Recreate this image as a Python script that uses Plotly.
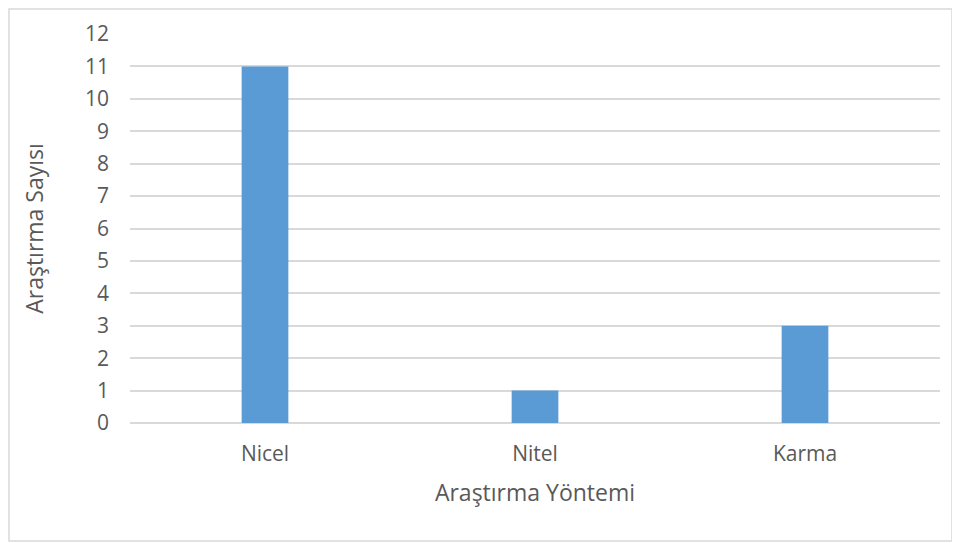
import plotly.graph_objects as go

categories = ["Nicel", "Nitel", "Karma"]
values = [11, 1, 3]
y_ticks = list(range(0, 13))

# page body has an 8px margin, so figure coords = reference coords - 8
OFF = 8
W, H = 960, 543
L, T = 130 - OFF, 34 - OFF
R = W - (940 - OFF)
B = H - (423 - OFF)
pw, ph = W - L - R, H - T - B

def px_x(x):
    return (x - OFF - L) / pw

def px_y(y):
    return (H - B - (y - OFF)) / ph

fig = go.Figure(go.Bar(
    x=categories, y=values,
    marker=dict(color="#5B9BD5", line=dict(width=0)),
    width=0.173,
))

font_family = "Open Sans, DejaVu Sans, sans-serif"
fig.update_layout(
    width=W, height=H,
    margin=dict(l=L, r=R, t=T, b=B),
    paper_bgcolor="white", plot_bgcolor="white",
    font=dict(family=font_family, color="#595959"),
    showlegend=False,
    xaxis=dict(
        title=dict(text="Araştırma Yöntemi", font=dict(size=23, color="#595959"), standoff=18),
        tickfont=dict(size=21, color="#595959"),
        showgrid=False, showline=False, zeroline=False, ticks="",
        ticklabelstandoff=16,
    ),
    yaxis=dict(
        title=dict(text="Araştırma Sayısı", font=dict(size=23, color="#595959"), standoff=34),
        tickfont=dict(size=21, color="#595959"),
        range=[0, 12], tickmode="array", tickvals=y_ticks,
        showgrid=True, gridcolor="#D9D9D9", gridwidth=1.5,
        zeroline=True, zerolinecolor="#D9D9D9", zerolinewidth=1.5,
        showline=False, ticks="", ticklabelstandoff=20,
    ),
    shapes=[dict(
        type="rect", xref="paper", yref="paper",
        x0=px_x(9), x1=px_x(952), y0=px_y(541), y1=px_y(9),
        line=dict(color="#D9D9D9", width=1.5), fillcolor="rgba(0,0,0,0)",
        layer="below",
    )],
)

fig.write_html("out.html")
